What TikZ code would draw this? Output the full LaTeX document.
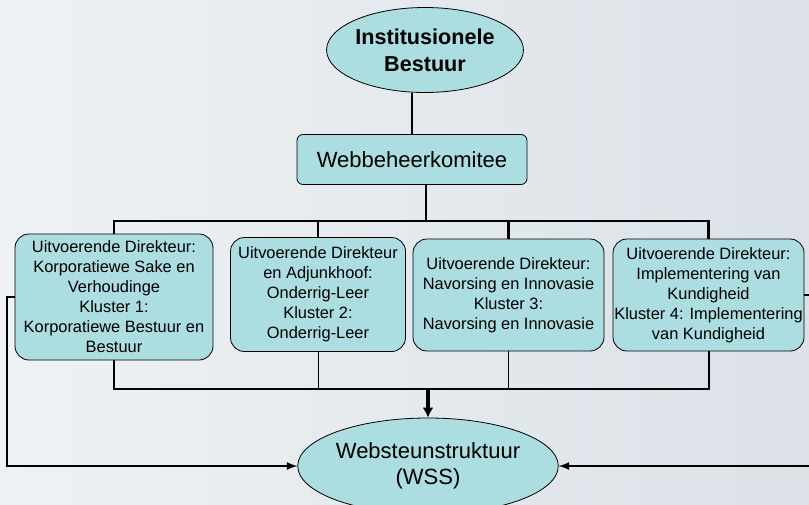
\documentclass[tikz,border=0pt]{standalone}
\usepackage{fontspec}
\setmainfont{Liberation Sans}
\usetikzlibrary{shapes.geometric, arrows, arrows.meta}
\definecolor{boxfill}{RGB}{172,221,225}
\definecolor{bgleft}{RGB}{238,242,244}
\definecolor{bgright}{RGB}{219,225,231}
\tikzstyle{topell} = [ellipse, draw=black, fill=boxfill, minimum width=96pt, minimum height=42.5pt, inner sep=0pt, align=center, font=\fontsize{10.8}{13.5}\selectfont\bfseries]
\tikzstyle{wssell} = [ellipse, draw=black, fill=boxfill, minimum width=118.5pt, minimum height=48pt, inner sep=0pt, align=center, font=\fontsize{11}{13}\selectfont]
\tikzstyle{webbox} = [rectangle, rounded corners=3pt, draw=black, fill=boxfill, minimum width=115pt, minimum height=25pt, text centered, font=\fontsize{11}{13}\selectfont]
\tikzstyle{cluster} = [rectangle, rounded corners=7pt, draw=black, fill=boxfill, inner sep=0pt, align=center, font=\fontsize{8.2}{10}\selectfont]
\tikzstyle{thickline} = [line width=1.2pt]
\tikzstyle{riser} = [line width=1pt]
\tikzstyle{thinriser} = [line width=0.5pt]
\tikzstyle{arrow} = [line width=2pt,-{Latex[length=5pt,width=5.5pt]}]
\tikzstyle{fback} = [line width=0.8pt,->,>=latex]

\begin{document}
\begin{tikzpicture}[x=0.5pt, y=-0.5pt]

%% background
\useasboundingbox (0,0) rectangle (809,504);
\shade[left color=bgleft, right color=bgright] (0,0) rectangle (809,504);

%% top, clusters, bottom
\node (inst) [topell] at (425,50) {Institusionele\\Bestuur};
\node (web)  [webbox] at (412,159.5) {Webbeheerkomitee};
\node (clu1) [cluster, minimum width=99pt, minimum height=63pt] at (114,297)
  {Uitvoerende Direkteur:\\Korporatiewe Sake en\\Verhoudinge\\Kluster 1:\\Korporatiewe Bestuur en\\Bestuur};
\node (clu2) [cluster, minimum width=87.5pt, minimum height=57pt] at (318,294.5)
  {Uitvoerende Direkteur\\en Adjunkhoof:\\Onderrig-Leer\\Kluster 2:\\Onderrig-Leer};
\node (clu3) [cluster, minimum width=95.5pt, minimum height=56pt] at (508.5,295)
  {Uitvoerende Direkteur:\\Navorsing en Innovasie\\Kluster 3:\\Navorsing en Innovasie};
\node (clu4) [cluster, minimum width=95.5pt, minimum height=56pt] at (708.5,295)
  {Uitvoerende Direkteur:\\Implementering van\\Kundigheid\\Kluster 4: Implementering\\van Kundigheid};
\node (wss)  [wssell] at (428,466) {Websteunstruktuur\\(WSS)};

\coordinate (split) at (426,221);
\coordinate (join)  at (428,389);
\coordinate (lback) at (7,466);
\coordinate (rback) at (815,466);

%% Draw the connectivity.
\draw [thickline] (inst.south -| web.north) -- (web.north);
\draw [thickline] (web.south -| split) -- (split);
\draw [thickline] (split) -| (clu1.north);
\draw [thickline] (split) -| (clu2.north);
\draw [thickline] (split) -| (clu3.north);
\draw [thickline] (split) -| (clu4.north);
\draw [riser] (clu1.south) |- (join);
\draw [riser] (clu4.south) |- (join);
\draw [thinriser] (clu2.south) |- (join);
\draw [thinriser] (clu3.south) |- (join);
\draw [line width=1.4pt] (clu1.south |- join) -- (clu4.south |- join);
\draw [arrow] (join) -- (wss.north);
\draw [fback] (clu1.west) -| (lback) -- (wss.west);
\draw [fback] (clu4.east) -| (rback) -- (wss.east);
\end{tikzpicture}
\end{document}
